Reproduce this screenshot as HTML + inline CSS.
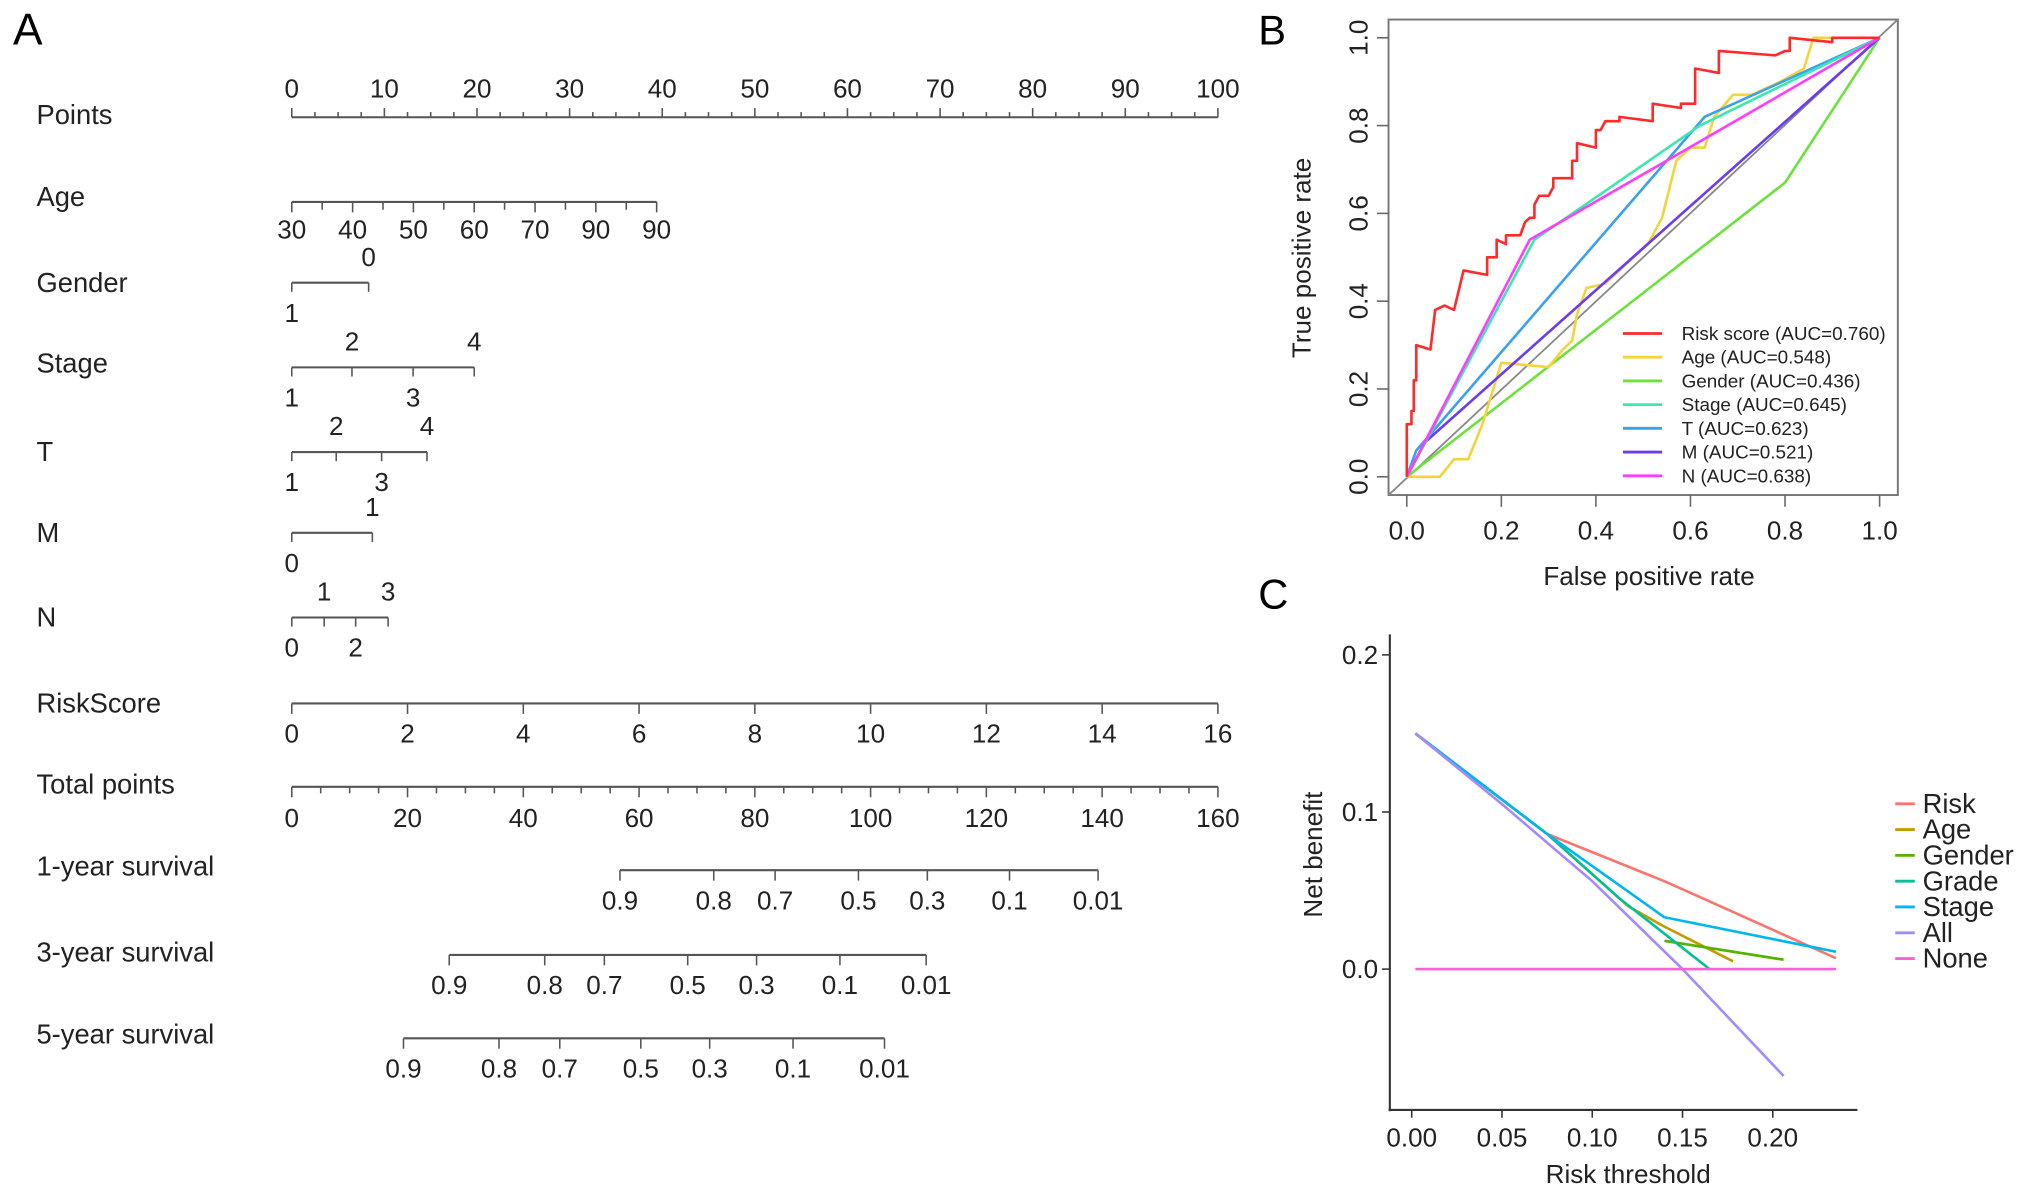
<!DOCTYPE html>
<html><head><meta charset="utf-8"><style>
html,body{margin:0;padding:0;background:#fff}
svg{display:block;font-family:"Liberation Sans",Arial,sans-serif}
</style></head><body>
<svg id="fig" width="2032" height="1192" viewBox="0 0 1560 915" preserveAspectRatio="none" xmlns="http://www.w3.org/2000/svg">
<text x="10" y="34" font-size="34">A</text>
<text x="966" y="34" font-size="32">B</text>
<text x="966" y="467" font-size="32">C</text>
<g id="nomo"></g>
<g id="roc"></g>
<g id="dca"></g>
</svg>
<script>
// ---------- Nomogram data ----------
const pointTicks=[0,10,20,30,40,50,60,70,80,90,100];
const ageTickPts=[0,3.28,6.57,9.85,13.13,16.42,19.7,22.98,26.27,29.55,32.83,36.12,39.4];
const ageLabels=['30','40','50','60','70','90','90'];
const genderLevels=['0','1'];const genderPts=[8.3,0];
const stageLevels=['1','2','3','4'];const stagePts=[0,6.5,13.1,19.7];
const tLevels=['1','2','3','4'];const tPts=[0,4.8,9.7,14.6];
const mLevels=['0','1'];const mPts=[0,8.7];
const nLevels=['0','1','2','3'];const nPts=[0,3.5,6.9,10.4];
const riskTicks=[0,2,4,6,8,10,12,14,16];
const totalTicks=[0,20,40,60,80,100,120,140,160];
const survLabels=['0.9','0.8','0.7','0.5','0.3','0.1','0.01'];
const surv1Total=[56.7,72.9,83.5,97.9,109.8,124,139.3];
const surv3Total=[27.2,43.7,54,68.4,80.3,94.7,109.6];
const surv5Total=[19.3,35.8,46.3,60.3,72.2,86.6,102.4];

// ---------- ROC data ----------
const rocNames=['Risk score (AUC=0.760)','Age (AUC=0.548)','Gender (AUC=0.436)','Stage (AUC=0.645)','T (AUC=0.623)','M (AUC=0.521)','N (AUC=0.638)'];
const rocColors=['#ff2a2a','#f5d33a','#6be33c','#3ce8b0','#3aa0f0','#6a3cf0','#ff3cff'];
const rocRiskFpr=[0,0,0.01,0.01,0.015,0.015,0.02,0.02,0.05,0.06,0.08,0.1,0.12,0.17,0.17,0.19,0.19,0.21,0.21,0.24,0.25,0.26,0.27,0.27,0.28,0.3,0.31,0.31,0.35,0.35,0.36,0.36,0.4,0.4,0.41,0.42,0.45,0.45,0.52,0.52,0.58,0.58,0.61,0.61,0.66,0.66,0.78,0.8,0.81,0.81,0.9,0.9,1];
const rocRiskTpr=[0,0.12,0.12,0.15,0.15,0.22,0.22,0.30,0.29,0.38,0.39,0.38,0.47,0.46,0.5,0.5,0.54,0.53,0.55,0.55,0.58,0.59,0.59,0.62,0.64,0.64,0.66,0.68,0.68,0.72,0.72,0.76,0.75,0.79,0.79,0.81,0.81,0.82,0.81,0.85,0.84,0.85,0.85,0.93,0.92,0.97,0.96,0.97,0.97,1.0,0.99,1.0,1];
const rocAgeFpr=[0,0.07,0.1,0.13,0.16,0.2,0.3,0.33,0.35,0.36,0.38,0.42,0.51,0.54,0.57,0.6,0.63,0.65,0.69,0.73,0.79,0.84,0.86,0.9,1];
const rocAgeTpr=[0,0,0.04,0.04,0.12,0.26,0.25,0.29,0.31,0.37,0.43,0.44,0.53,0.59,0.72,0.75,0.75,0.82,0.87,0.87,0.9,0.93,1.0,1.0,1];
const rocGenderFpr=[0,0.8,1];const rocGenderTpr=[0,0.67,1];
const rocStageFpr=[0,0.27,0.62,1];const rocStageTpr=[0,0.54,0.8,1];
const rocTFpr=[0,0.02,0.63,1];const rocTTpr=[0,0.06,0.82,1];
const rocMFpr=[0,0.04,1];const rocMTpr=[0,0.08,1];
const rocNFpr=[0,0.26,1];const rocNTpr=[0,0.54,1];
const rocTicks=[0,0.2,0.4,0.6,0.8,1.0];

// ---------- DCA data ----------
const dcaNames=['Risk','Age','Gender','Grade','Stage','All','None'];
const dcaColors=['#F8766D','#C49A00','#53B400','#00C094','#00B6EB','#A58AFF','#FB61D7'];
const dcaAllX=[0.002,0.05,0.1,0.15,0.206];const dcaAllY=[0.15,0.105,0.056,0.0,-0.068];
const dcaRiskX=[0.002,0.075,0.14,0.235];const dcaRiskY=[0.15,0.086,0.056,0.007];
const dcaAgeX=[0.002,0.075,0.12,0.14,0.178];const dcaAgeY=[0.15,0.086,0.04,0.027,0.005];
const dcaGenderX=[0.14,0.206];const dcaGenderY=[0.018,0.006];
const dcaGradeX=[0.002,0.075,0.115,0.165];const dcaGradeY=[0.15,0.086,0.045,0.0];
const dcaStageX=[0.002,0.075,0.14,0.235];const dcaStageY=[0.15,0.086,0.033,0.011];
const dcaNoneX=[0.002,0.235];const dcaNoneY=[0,0];
const dcaXTicks=[0,0.05,0.1,0.15,0.2];const dcaXLabels=['0.00','0.05','0.10','0.15','0.20'];
const dcaYTicks=[0,0.1,0.2];const dcaYLabels=['0.0','0.1','0.2'];

const NS='http://www.w3.org/2000/svg';
function mk(parent,tag,attrs,txt){const e=document.createElementNS(NS,tag);for(const k in attrs)e.setAttribute(k,attrs[k]);if(txt!==undefined)e.textContent=txt;parent.appendChild(e);return e;}

// ---------- Nomogram ----------
const nomo=document.getElementById('nomo');
const nx=p=>224+p*7.11;
const tx=t=>224+t*711/160;
const GREY='#555';
function rowLabel(txt,y,name){const e=mk(nomo,'text',{x:28,y:y+7,'font-size':21,fill:'#222'},txt);

}
function hline(x1,x2,y,name){const e=mk(nomo,'line',{x1:x1,x2:x2,y1:y,y2:y,stroke:GREY,'stroke-width':1.6});

}
function tick(x,y1,y2){const e=mk(nomo,'line',{x1:x,x2:x,y1:y1,y2:y2,stroke:GREY,'stroke-width':1.2});

}
function lab(x,y,t,name){const e=mk(nomo,'text',{x:x,y:y,'font-size':20,'text-anchor':'middle',fill:'#222'},t);

}

rowLabel('Points',88,'points-label');
hline(nx(0),nx(100),90,'points-axis');
for(let p=0;p<=100;p+=2.5){tick(nx(p),90,p%10===0?83:86);}
pointTicks.forEach(p=>lab(nx(p),75,String(p),'points-tick-label'));
rowLabel('Age',151,'age-label');
hline(nx(0),nx(ageTickPts[ageTickPts.length-1]),155,'age-axis');
ageTickPts.forEach((p,i)=>{tick(nx(p),155,i%2===0?163:161);if(i%2===0)lab(nx(p),183,ageLabels[i/2],'age-tick-label');});
function cat(levels,pts,y,name){
  hline(nx(Math.min(...pts)),nx(Math.max(...pts)),y,name+'-axis');
  const order=pts.map((p,i)=>i).sort((a,b)=>pts[a]-pts[b]);
  order.forEach((i,k)=>{tick(nx(pts[i]),y,y+7);
    const above=k%2===1; lab(nx(pts[i]),above?y-13:y+30,levels[i],name+'-level-label');});
}
rowLabel('Gender',217,'gender-label');cat(genderLevels,genderPts,217,'gender');
rowLabel('Stage',279,'stage-label');cat(stageLevels,stagePts,282,'stage');
rowLabel('T',347,'t-label');cat(tLevels,tPts,347,'t');
rowLabel('M',409,'m-label');cat(mLevels,mPts,409,'m');
rowLabel('N',474,'n-label');cat(nLevels,nPts,474,'n');
rowLabel('RiskScore',540,'riskscore-label');
hline(nx(0),nx(100),540,'riskscore-axis');
riskTicks.forEach(v=>{tick(nx(v*6.25),540,548);lab(nx(v*6.25),570,String(v),'riskscore-tick-label');});
rowLabel('Total points',602,'total-points-label');
hline(tx(0),tx(160),604,'total-points-axis');
for(let t=0;t<=160;t+=5)tick(tx(t),604,t%20===0?612:609);
totalTicks.forEach(t=>lab(tx(t),635,String(t),'total-points-tick-label'));
function surv(vals,y,name){
  hline(tx(vals[0]),tx(vals[vals.length-1]),y,name+'-axis');
  vals.forEach((v,i)=>{tick(tx(v),y,y+8);lab(tx(v),y+30,survLabels[i],name+'-tick-label');});
}
rowLabel('1-year survival',665,'one-year-survival-label');surv(surv1Total,668,'one-year-survival');
rowLabel('3-year survival',731,'three-year-survival-label');surv(surv3Total,733,'three-year-survival');
rowLabel('5-year survival',794,'five-year-survival-label');surv(surv5Total,797,'five-year-survival');

// ---------- ROC ----------
const roc=document.getElementById('roc');
const rx=v=>1080+v*363, ry=v=>366-v*337;
{const b=mk(roc,'rect',{x:1066,y:15,width:391,height:365,fill:'none',stroke:'#777','stroke-width':1.5});

}
{const d=mk(roc,'line',{x1:1066,y1:380,x2:1457,y2:15,stroke:'#888','stroke-width':1.4});

}
rocTicks.forEach(v=>{
  const a=mk(roc,'line',{x1:rx(v),x2:rx(v),y1:380,y2:389,stroke:'#666','stroke-width':1.2});
  
  
  const t=mk(roc,'text',{x:rx(v),y:414,'font-size':20,'text-anchor':'middle',fill:'#222'},v.toFixed(1));
  
  
  const c=mk(roc,'line',{x1:1057,x2:1066,y1:ry(v),y2:ry(v),stroke:'#666','stroke-width':1.2});
  
  
  const u=mk(roc,'text',{x:0,y:0,'font-size':20,'text-anchor':'middle',fill:'#222',transform:`translate(1050,${ry(v)}) rotate(-90)`},v.toFixed(1));
  
  
});
{const t=mk(roc,'text',{x:1266,y:449,'font-size':20,'text-anchor':'middle',fill:'#222'},'False positive rate');


const u=mk(roc,'text',{x:0,y:0,'font-size':20,'text-anchor':'middle',fill:'#222',transform:'translate(1006,198) rotate(-90)'},'True positive rate');

}
function dcaSafe(s){return s.split(' ')[0].toLowerCase();}
const rocSeries=[[rocRiskFpr,rocRiskTpr],[rocAgeFpr,rocAgeTpr],[rocGenderFpr,rocGenderTpr],[rocStageFpr,rocStageTpr],[rocTFpr,rocTTpr],[rocMFpr,rocMTpr],[rocNFpr,rocNTpr]];
const rocOrder=[2,1,5,4,3,6,0];
rocOrder.forEach(i=>{
  const [fx,ty]=rocSeries[i];
  const pts=fx.map((f,k)=>rx(f).toFixed(1)+','+ry(ty[k]).toFixed(1)).join(' ');
  const l=mk(roc,'polyline',{points:pts,fill:'none',stroke:rocColors[i],'stroke-width':2,'stroke-linejoin':'round'});
  
  
});
rocNames.forEach((n,i)=>{
  const y=256+i*18.2;
  const l=mk(roc,'line',{x1:1246,x2:1276,y1:y,y2:y,stroke:rocColors[i],'stroke-width':2.2});
  
  
  const t=mk(roc,'text',{x:1291,y:y+5,'font-size':14.5,fill:'#222'},n);
  
  
});

// ---------- DCA ----------
const dca=document.getElementById('dca');
const dx=v=>1083.8+v*1386, dy=v=>743.9-v*1206;
{const a=mk(dca,'line',{x1:1067,x2:1067,y1:487,y2:853,stroke:'#333','stroke-width':1.6});


const b=mk(dca,'line',{x1:1066,x2:1426,y1:852,y2:852,stroke:'#333','stroke-width':1.6});

}
dcaXTicks.forEach((v,i)=>{
  const a=mk(dca,'line',{x1:dx(v),x2:dx(v),y1:852,y2:858,stroke:'#333','stroke-width':1.2});
  
  
  const t=mk(dca,'text',{x:dx(v),y:880,'font-size':20,'text-anchor':'middle',fill:'#222'},dcaXLabels[i]);
  
  
});
dcaYTicks.forEach((v,i)=>{
  const a=mk(dca,'line',{x1:1061,x2:1067,y1:dy(v),y2:dy(v),stroke:'#333','stroke-width':1.2});
  
  
  const t=mk(dca,'text',{x:1058,y:dy(v)+7,'font-size':20,'text-anchor':'end',fill:'#222'},dcaYLabels[i]);
  
  
});
{const t=mk(dca,'text',{x:1250,y:908,'font-size':20,'text-anchor':'middle',fill:'#222'},'Risk threshold');


const u=mk(dca,'text',{x:0,y:0,'font-size':20,'text-anchor':'middle',fill:'#222',transform:'translate(1015,656) rotate(-90)'},'Net benefit');

}
const dcaSeries=[[dcaRiskX,dcaRiskY],[dcaAgeX,dcaAgeY],[dcaGenderX,dcaGenderY],[dcaGradeX,dcaGradeY],[dcaStageX,dcaStageY],[dcaAllX,dcaAllY],[dcaNoneX,dcaNoneY]];
dcaSeries.forEach((s,i)=>{
  const pts=s[0].map((x,k)=>dx(x).toFixed(1)+','+dy(s[1][k]).toFixed(1)).join(' ');
  const l=mk(dca,'polyline',{points:pts,fill:'none',stroke:dcaColors[i],'stroke-width':2,'stroke-linejoin':'round'});
  
  
});
dcaNames.forEach((n,i)=>{
  const y=617+i*19.8;
  const l=mk(dca,'line',{x1:1455,x2:1470,y1:y,y2:y,stroke:dcaColors[i],'stroke-width':2.2});
  
  
  const t=mk(dca,'text',{x:1476,y:y+7,'font-size':21,fill:'#222'},n);
  
  
});
</script>
</body></html>
